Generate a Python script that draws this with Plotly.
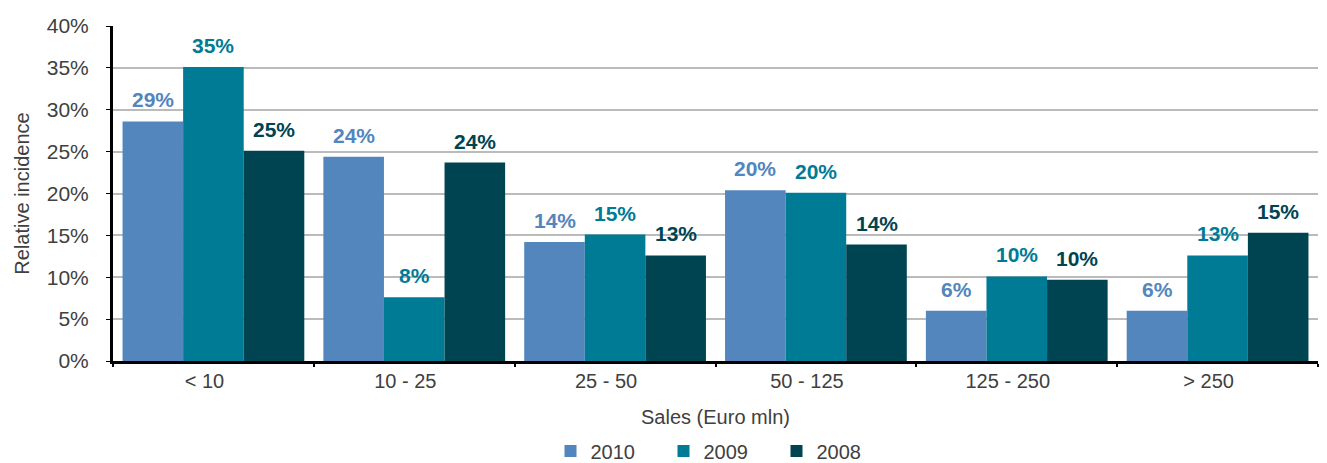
import plotly.graph_objects as go

categories = ["< 10", "10 - 25", "25 - 50", "50 - 125", "125 - 250", "> 250"]
series_names = ["2010", "2009", "2008"]
v2010 = [28.6, 24.4, 14.2, 20.4, 6.0, 6.0]
v2009 = [35.1, 7.6, 15.1, 20.1, 10.1, 12.6]
v2008 = [25.1, 23.7, 12.6, 13.9, 9.7, 15.3]
colors = ["#5386BD", "#007B96", "#004452"]

FONT = "Liberation Sans"
BARGAP = 0.095
fig = go.Figure()
series = [v2010, v2009, v2008]
for name, vals, col in zip(series_names, series, colors):
    fig.add_trace(go.Bar(
        x=categories, y=vals, name=name, marker_color=col, marker_line_width=0,
    ))

# value labels above bars (annotations so that the gap above each bar matches)
bw = (1 - BARGAP) / len(series)
for si, (vals, col) in enumerate(zip(series, colors)):
    for ci, v in enumerate(vals):
        fig.add_annotation(
            x=ci + (si - 1) * bw, y=v, xref="x", yref="y",
            text=f"<b>{v:.0f}%</b>", showarrow=False,
            yanchor="bottom", yshift=8,
            font=dict(color=col, size=21, family=FONT),
        )

# page body has an 8px margin, so the figure is sized to the visible area
W, H = 1319, 455
fig.update_layout(
    width=W, height=H,
    margin=dict(l=105, r=9, t=18, b=102),
    plot_bgcolor="white", paper_bgcolor="white",
    barmode="group", bargap=BARGAP, bargroupgap=0,
    font=dict(family=FONT, size=20, color="#404040"),
    showlegend=True,
    legend=dict(orientation="h", xref="container", yref="container",
                x=712 / W, xanchor="center", y=1 - 443 / H, yanchor="middle",
                entrywidth=68, font=dict(size=20), traceorder="normal"),
)
fig.update_xaxes(
    showline=True, linecolor="black", linewidth=3,
    ticks="outside", tickson="boundaries", ticklen=3, tickcolor="black", tickwidth=2,
    ticklabelshift=-9, ticklabelstandoff=0, automargin=False,
    tickfont=dict(size=20), title=dict(text="Sales (Euro mln)", font=dict(size=20), standoff=19),
)
fig.update_yaxes(
    range=[0, 40], dtick=5, ticksuffix="%",
    showline=True, linecolor="black", linewidth=3,
    ticks="outside", ticklen=4, tickcolor="black", automargin=False,
    ticklabelstandoff=13,
    showgrid=True, gridcolor="#BBBBBB", gridwidth=1.5,
    tickfont=dict(size=21), title=dict(text="Relative incidence", font=dict(size=20), standoff=12),
    zeroline=False,
)
fig.write_html("out.html")
